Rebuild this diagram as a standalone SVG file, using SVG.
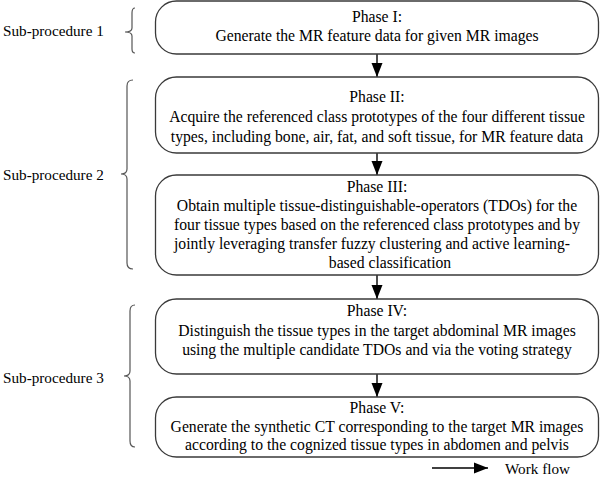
<svg xmlns="http://www.w3.org/2000/svg" width="600" height="478" viewBox="0 0 600 478">
<style>
.box{fill:#fff;stroke:#3a3a3a;stroke-width:1.3}
.t{font-family:"Liberation Serif","Times New Roman",serif;font-size:15.7px;fill:#000;text-anchor:middle}
.s{font-family:"Liberation Serif","Times New Roman",serif;font-size:15.2px;fill:#000}
.br{fill:none;stroke:#555;stroke-width:1.2}
.ar{stroke:#000;stroke-width:1.4;fill:none}
</style>
<defs>
<marker id="ah" markerUnits="userSpaceOnUse" markerWidth="14" markerHeight="12" refX="14" refY="6" orient="auto">
<path d="M0,0.5 L14,6 L0,11.5 Z" fill="#000"/>
</marker>
</defs>
<rect width="600" height="478" fill="#fff"/>
<g id="braces">
<path class="br" d="M135,8 Q132,8 132,13 L132,28 Q132,32 125,32 Q132,32 132,36 L132,49 Q132,53 135,53"/>
<path class="br" d="M133,80 Q127,80 127,86 L127,169 Q127,174 121,174 Q127,174 127,179 L127,263 Q127,269 133,269"/>
<path class="br" d="M135,305 Q130,305 130,311 L130,371 Q130,376 124,376 Q130,376 130,381 L130,441 Q130,447 135,447"/>
</g>
<g id="labels">
<text class="s" x="3" y="36">Sub-procedure 1</text>
<text class="s" x="3" y="180">Sub-procedure 2</text>
<text class="s" x="3" y="383">Sub-procedure 3</text>
</g>
<g id="connectors">
<line class="ar" x1="377" y1="54" x2="377" y2="77" marker-end="url(#ah)"/>
<line class="ar" x1="377" y1="153" x2="377" y2="175" marker-end="url(#ah)"/>
<line class="ar" x1="377" y1="275" x2="377" y2="299" marker-end="url(#ah)"/>
<line class="ar" x1="377" y1="374" x2="377" y2="397" marker-end="url(#ah)"/>
</g>
<g id="phase1">
<rect class="box" x="155.5" y="1" width="443" height="53" rx="21" ry="21"/>
<text class="t" x="377" y="22">Phase I:</text>
<text class="t" x="377" y="41">Generate the MR feature data for given MR images</text>
</g>
<g id="phase2">
<rect class="box" x="155.5" y="77" width="443" height="76" rx="21" ry="21"/>
<text class="t" x="377" y="102">Phase II:</text>
<text class="t" x="377" y="122">Acquire the referenced class prototypes of the four different tissue</text>
<text class="t" x="377" y="142">types, including bone, air, fat, and soft tissue, for MR feature data</text>
</g>
<g id="phase3">
<rect class="box" x="155.5" y="175" width="443" height="100" rx="21" ry="21"/>
<text class="t" x="377" y="192">Phase III:</text>
<text class="t" x="377" y="211">Obtain multiple tissue-distinguishable-operators (TDOs) for the</text>
<text class="t" x="377" y="230">four tissue types based on the referenced class prototypes and by</text>
<text class="t" x="372" y="249">jointly leveraging transfer fuzzy clustering and active learning-</text>
<text class="t" x="390" y="268">based classification</text>
</g>
<g id="phase4">
<rect class="box" x="155.5" y="299" width="443" height="75" rx="21" ry="21"/>
<text class="t" x="377" y="316">Phase IV:</text>
<text class="t" x="377" y="336">Distinguish the tissue types in the target abdominal MR images</text>
<text class="t" x="377" y="355">using the multiple candidate TDOs and via the voting strategy</text>
</g>
<g id="phase5">
<rect class="box" x="155.5" y="397" width="443" height="60" rx="21" ry="21"/>
<text class="t" x="377" y="413">Phase V:</text>
<text class="t" x="377" y="432">Generate the synthetic CT corresponding to the target MR images</text>
<text class="t" x="377" y="450">according to the cognized tissue types in abdomen and pelvis</text>
</g>
<g id="legend">
<line class="ar" x1="432" y1="468" x2="488" y2="468" marker-end="url(#ah)"/>
<text class="s" x="505" y="474">Work flow</text>
</g>
</svg>
